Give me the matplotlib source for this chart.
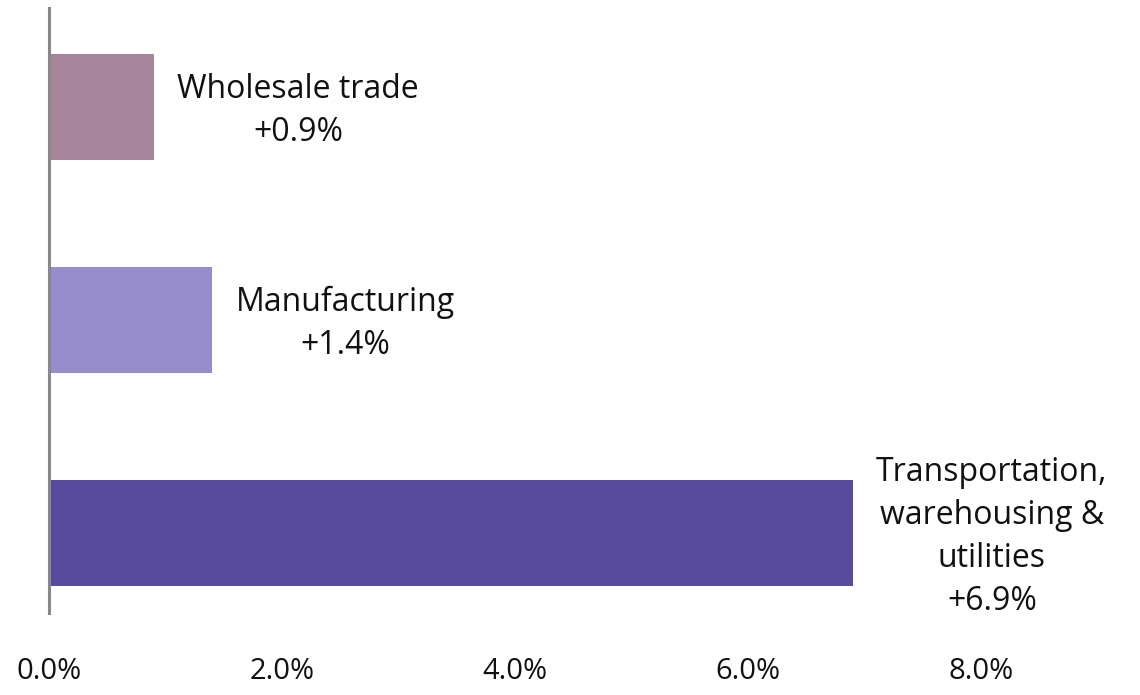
import matplotlib.pyplot as plt
from matplotlib.ticker import FuncFormatter

plt.rcParams["font.family"] = ["Open Sans", "DejaVu Sans"]

sectors = ["Transportation,\nwarehousing &\nutilities", "Manufacturing", "Wholesale trade"]
growth = [6.9, 1.4, 0.9]
colors = ["#574A9E", "#978CCB", "#A6849A"]
xticks = [0, 2, 4, 6, 8]

fig = plt.figure(figsize=(11.4, 6.95), dpi=100)
ax = fig.add_axes([49 / 1140, 82 / 695, (981 - 49) / 1140, 605 / 695])

ypos = list(range(len(sectors)))
ax.barh(ypos, growth, height=0.5, color=colors, zorder=2)

for y, v, name in zip(ypos, growth, sectors):
    ax.text(v + 0.2, y - 0.02, f"{name}\n+{v:.1f}%", ha="left", va="center",
            multialignment="center", fontsize=23, linespacing=1.4, color="#111111")

ax.set_xlim(0, 8)
ax.set_ylim(-0.376, 2.465)
ax.set_xticks(xticks)
ax.xaxis.set_major_formatter(FuncFormatter(lambda x, _: f"{x:.1f}%"))
ax.set_yticks([])
ax.tick_params(axis="x", length=0, pad=32, labelsize=21, labelcolor="#111111")

for side in ["top", "right", "bottom"]:
    ax.spines[side].set_visible(False)
ax.spines["left"].set_color("#888888")
ax.spines["left"].set_linewidth(2.2)
ax.spines["left"].set_zorder(3)

fig.savefig("out.png", dpi=100)
